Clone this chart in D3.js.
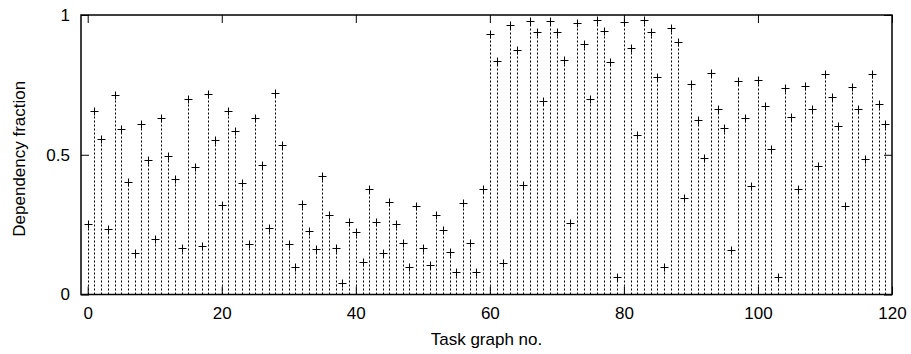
<!DOCTYPE html>
<html>
<head>
<meta charset="utf-8">
<script src="https://cdn.jsdelivr.net/npm/d3@7"></script>
<style>
  body { margin: 0; background: #fff; }
  svg { display: block; font-family: "Liberation Sans", Arial, sans-serif; }
</style>
</head>
<body>
<div id="chart"></div>
<script>
// dependency fraction per task graph (0..119)
const fractions = [
  0.253, 0.656, 0.558, 0.236, 0.715, 0.591, 0.403, 0.150, 0.609, 0.482,
  0.198, 0.632, 0.496, 0.415, 0.168, 0.698, 0.455, 0.174, 0.718, 0.553,
  0.319, 0.656, 0.586, 0.398, 0.180, 0.630, 0.462, 0.237, 0.721, 0.535,
  0.182, 0.097, 0.324, 0.228, 0.164, 0.423, 0.284, 0.167, 0.042, 0.260,
  0.224, 0.117, 0.379, 0.261, 0.150, 0.330, 0.251, 0.186, 0.097, 0.318,
  0.166, 0.105, 0.285, 0.229, 0.153, 0.080, 0.329, 0.185, 0.080, 0.379,
  0.931, 0.837, 0.114, 0.965, 0.875, 0.391, 0.980, 0.940, 0.694, 0.980,
  0.938, 0.839, 0.257, 0.970, 0.895, 0.700, 0.982, 0.943, 0.833, 0.062,
  0.975, 0.883, 0.569, 0.982, 0.940, 0.777, 0.097, 0.954, 0.902, 0.347,
  0.752, 0.626, 0.490, 0.794, 0.665, 0.595, 0.160, 0.763, 0.633, 0.389,
  0.768, 0.675, 0.521, 0.064, 0.738, 0.635, 0.377, 0.746, 0.663, 0.461,
  0.789, 0.708, 0.604, 0.315, 0.744, 0.665, 0.484, 0.788, 0.682, 0.610
];
const xTicks = [0, 20, 40, 60, 80, 100, 120];
const yTicks = [0, 0.5, 1];
const yTickLabels = ["0", "0.5", "1"];

const width = 911, height = 354;
const margin = {left: 81, right: 19, top: 15, bottom: 59.5};
const fontSize = '17px';

const svg = d3.select('#chart').append('svg')
    .attr('width', width)
    .attr('height', height);

const x = d3.scaleLinear()
    .domain([-1, 120])
    .range([margin.left, width - margin.right]);

const y = d3.scaleLinear()
    .domain([0, 1])
    .range([height - margin.bottom, margin.top]);

const pts = fractions.map((v, i) => ({i, v}));

// impulses
svg.append('g')
    .attr('stroke', '#000')
    .attr('stroke-width', 1)
    .attr('stroke-dasharray', '2,2')
    .selectAll('line')
    .data(pts)
    .join('line')
    .attr('x1', d => Math.round(x(d.i)) + 0.5)
    .attr('x2', d => Math.round(x(d.i)) + 0.5)
    .attr('y1', y(0))
    .attr('y2', d => y(d.v));

// plus markers
const s = 4;
svg.append('g')
    .attr('stroke', '#000')
    .attr('stroke-width', 1)
    .selectAll('path')
    .data(pts)
    .join('path')
    .attr('d', d => {
        const cx = Math.round(x(d.i)) + 0.5, cy = Math.round(y(d.v)) + 0.5;
        return `M${cx - s},${cy}H${cx + s}M${cx},${cy - s}V${cy + s}`;
    });

// frame with mirrored inward ticks
const tickLen = 8;
svg.append('g')
    .attr('transform', `translate(0,${y(0)})`)
    .call(d3.axisBottom(x).tickValues(xTicks).tickSizeInner(-tickLen).tickSizeOuter(0).tickPadding(12))
    .call(g => g.select('.domain').remove())
    .call(g => g.selectAll('.tick text').style('font-size', fontSize).attr('fill', '#000'));

svg.append('g')
    .attr('transform', `translate(0,${y(1)})`)
    .call(d3.axisTop(x).tickValues(xTicks).tickSizeInner(-tickLen).tickSizeOuter(0).tickFormat(''))
    .call(g => g.select('.domain').remove());

svg.append('g')
    .attr('transform', `translate(${x(-1)},0)`)
    .call(d3.axisLeft(y).tickValues(yTicks).tickFormat((d, i) => yTickLabels[i]).tickSizeInner(-tickLen).tickSizeOuter(0).tickPadding(11))
    .call(g => g.select('.domain').remove())
    .call(g => g.selectAll('.tick text').style('font-size', fontSize).attr('fill', '#000'));

svg.append('g')
    .attr('transform', `translate(${x(120)},0)`)
    .call(d3.axisRight(y).tickValues(yTicks).tickSizeInner(-tickLen).tickSizeOuter(0).tickFormat(''))
    .call(g => g.select('.domain').remove());

svg.append('rect')
    .attr('x', x(-1))
    .attr('y', y(1))
    .attr('width', x(120) - x(-1))
    .attr('height', y(0) - y(1))
    .attr('fill', 'none')
    .attr('stroke', '#000')
    .attr('stroke-width', 1.5);

svg.append('text')
    .attr('x', (x(-1) + x(120)) / 2)
    .attr('y', 345)
    .attr('text-anchor', 'middle')
    .style('font-size', fontSize)
    .text('Task graph no.');

svg.append('text')
    .attr('transform', `translate(25,${(y(0) + y(1)) / 2 + 4}) rotate(-90)`)
    .attr('text-anchor', 'middle')
    .style('font-size', fontSize)
    .text('Dependency fraction');
</script>
</body>
</html>
